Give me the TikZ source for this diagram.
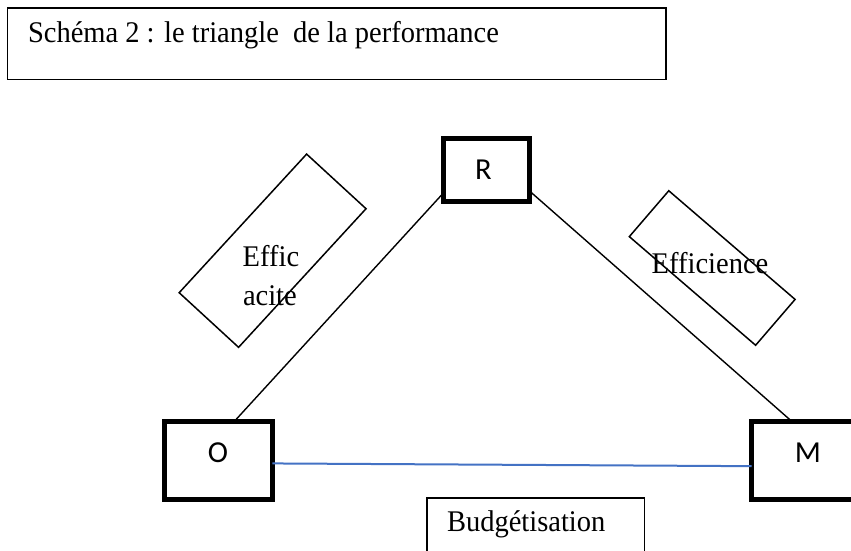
\documentclass[tikz,border=0pt]{standalone}
\usepackage{fontspec}
\setmainfont[FakeStretch=0.95]{Liberation Serif}
\newfontfamily\calib{Carlito}
\definecolor{lineblue}{RGB}{68,114,196}
\begin{document}
\begin{tikzpicture}[x=1pt,y=-1pt,
  thinbox/.style={draw=black, line width=1.5pt, inner sep=0pt, outer sep=0pt},
  thickbox/.style={draw=black, line width=5pt, inner sep=0pt, outer sep=0pt},
  lbl/.style={font=\fontsize{30}{34}\selectfont, inner sep=0pt, outer sep=0pt},
  sanslbl/.style={font=\calib\fontsize{30.5}{34}\selectfont, inner sep=0pt, outer sep=0pt},
  conn/.style={draw=black, line width=1.4pt},
  blueconn/.style={draw=lineblue, line width=2pt}]
\clip (0,0) rectangle (851,550);
% title
\node[thinbox, minimum width=658.5pt, minimum height=71.3pt] (titlebox) at (336.75,43.65) {};
\node[lbl, anchor=base west] (titletext) at (28,42) {Schéma 2 : le triangle\ \ de la performance};
% vertices
\node[thickbox, minimum width=86pt, minimum height=63pt] (R) at (486.5,170) {};
\node[thickbox, minimum width=107.8pt, minimum height=78.2pt] (O) at (218.4,460.6) {};
\node[thickbox, minimum width=107.8pt, minimum height=78pt] (M) at (805.4,460.5) {};
\node[sanslbl, anchor=base] (Rt) at (483.3,179.3) {R};
\node[sanslbl, anchor=base] (Ot) at (218,462.3) {O};
\node[sanslbl, anchor=base] (Mt) at (808,462.3) {M};
% connectors
\draw[conn] (O.68.25) -- (R.208.1);
\draw[conn] (R.-26.8) -- (M.109.4);
\draw[blueconn] (O.-3.93) -- (M.186.56);
% rotated label boxes
\node[thinbox, minimum width=188.3pt, minimum height=80.7pt, rotate=47.4] (effbox) at (272.6,250.7) {};
\node[lbl, anchor=base west] (effa) at (242.7,266.7) {Effic};
\node[lbl, anchor=base west] (effb) at (243,305.7) {acite};
\node[thinbox, minimum width=166.6pt, minimum height=60.5pt, rotate=-40.7] (effcbox) at (712.2,268) {};
\node[lbl, anchor=base] (effct) at (710,273.3) {Efficience};
% budget
\node[thinbox, minimum width=217.5pt, minimum height=60pt] (budbox) at (535.5,527.75) {};
\node[lbl, anchor=base west] (budt) at (447,531.7) {Budgétisation};
\end{tikzpicture}
\end{document}
